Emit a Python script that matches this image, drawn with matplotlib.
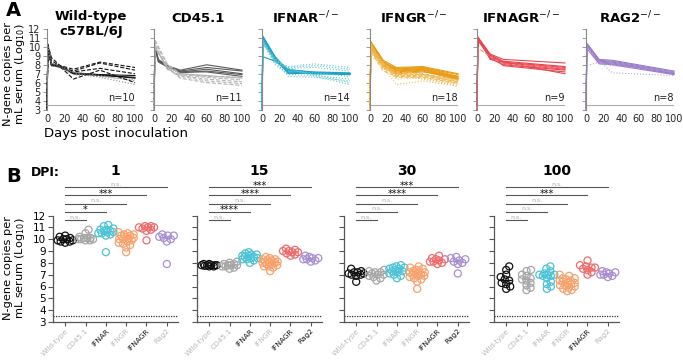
import numpy as np
import matplotlib
matplotlib.use('Agg')
from matplotlib import pyplot as plt

W, H = 683, 361

# ---- panel A: one row per mouse, log10 N-gene copies / mL serum ----
wt_days = [0, 1, 5, 15, 30, 60, 100]
wt_vals = [[3, 10.3, 8.8, 7.9, 7.5, 8.3, 7.7],
           [3, 10.2, 8.5, 7.8, 7.3, 8.2, 7.4],
           [3, 10.0, 8.0, 7.8, 7.2, 7.6, 7.0],
           [3, 9.9, 8.0, 7.7, 7.1, 6.9, 6.8],
           [3, 9.8, 7.9, 7.8, 7.0, 6.8, 6.6],
           [3, 9.8, 8.1, 7.9, 7.0, 6.9, 6.5],
           [3, 9.7, 7.9, 7.7, 6.9, 6.7, 6.3],
           [3, 10.1, 8.2, 7.8, 7.2, 6.8, 6.2],
           [3, 9.9, 8.0, 7.8, 6.4, 7.4, 6.0],
           [3, 10.0, 8.1, 7.75, 7.1, 6.6, 5.8]]
wt_ls = ['--', '--', '--', '-', '-', '-', ':', ':', '--', ':']
wt_shade = [0, 0, 0, 0, 0, 0, 1, 1, 0, 1]

cd_days = [0, 1, 5, 15, 30, 60, 100]
cd_vals = [[3, 10.0, 8.5, 7.9, 7.4, 8.0, 7.4],
           [3, 10.1, 8.4, 7.8, 7.3, 7.7, 7.3],
           [3, 9.9, 8.3, 7.8, 7.2, 7.5, 7.0],
           [3, 10.0, 8.6, 7.9, 7.1, 7.3, 6.9],
           [3, 10.1, 8.5, 7.7, 7.2, 7.2, 6.7],
           [3, 10.8, np.nan, 8.1, 7.0, 6.7, 6.6],
           [3, 10.5, np.nan, 8.0, 6.9, 6.6, 6.3],
           [3, 10.2, np.nan, 7.6, 6.8, 6.4, 6.1],
           [3, 10.1, np.nan, 7.5, 6.7, 6.2, 5.9],
           [3, 10.0, np.nan, 7.7, 6.5, 6.0, 5.7],
           [3, 9.9, np.nan, 7.8, 7.0, 6.8, 6.5]]
cd_ls = ['-', '-', '-', '-', '-', '--', '--', '--', '--', '--', '-']
cd_shade = [0, 0, 0, 0, 0, 1, 1, 1, 1, 1, 1]

ar_days = [0, 1, 15, 30, 60, 100]
ar_vals = [[3, 11.2, 8.9, 7.3, 7.1, 7.0],
           [3, 11.1, 8.8, 7.2, 7.0, 7.0],
           [3, 10.9, 8.7, 7.1, 7.0, 6.9],
           [3, 10.7, 8.6, 7.0, 7.1, 7.0],
           [3, 10.8, 8.5, 7.4, 7.2, 7.1],
           [3, 8.9, 8.4, 7.5, 7.1, 6.9],
           [3, 10.6, 8.3, 7.8, 8.1, 7.7],
           [3, 10.5, 8.6, 7.7, 7.9, 7.5],
           [3, 10.4, 8.5, 7.6, 7.7, 7.3],
           [3, 10.3, 8.2, 7.3, 7.1, 6.7],
           [3, 10.8, 8.0, 6.9, 6.8, 6.4],
           [3, 10.5, 8.4, 6.7, 6.6, 6.2],
           [3, 10.7, 8.7, 7.5, 6.9, 6.0],
           [3, 10.6, 8.3, 7.6, 6.7, 5.8]]
ar_ls = ['-'] * 6 + [':'] * 8
ar_shade = [0] * 6 + [1] * 8

gr_days = [0, 1, 15, 30, 60, 100]
gr_vals = [[3, 10.6, 8.5, 7.7, 7.8, 7.0],
           [3, 10.5, 8.3, 7.6, 7.7, 6.9],
           [3, 10.4, 8.2, 7.5, 7.7, 6.7],
           [3, 10.3, 8.1, 7.4, 7.6, 6.6],
           [3, 10.2, 8.0, 7.3, 7.5, 6.5],
           [3, 10.0, 8.0, 7.2, 7.4, 6.4],
           [3, 10.0, 7.9, 7.1, 7.3, 6.3],
           [3, 9.9, 7.8, 7.0, 7.2, 6.7],
           [3, 10.4, 8.4, 7.3, 7.5, 6.5],
           [3, 9.8, 7.7, 6.9, 6.9, 6.2],
           [3, 9.6, 7.6, 6.8, 6.8, 6.1],
           [3, 9.5, 7.3, 6.7, 6.7, 6.0],
           [3, 9.3, 8.2, 6.6, 6.6, 5.9],
           [3, 10.1, 8.1, 7.2, 7.0, 6.3],
           [3, 10.3, 7.9, 7.0, 6.9, 6.1],
           [3, 8.9, 8.0, 6.4, 6.5, 5.8],
           [3, 9.7, 8.3, 6.9, 6.4, 5.7],
           [3, 10.0, 7.7, 5.8, 6.2, 5.6]]
gr_ls = ['-'] * 9 + ['--'] * 6 + [':'] * 3
gr_shade = [0] * 9 + [1] * 9

agr_days = [0, 1, 15, 30, 100]
agr_vals = [[3, 11.1, 9.2, 8.6, 8.2],
            [3, 11.0, 9.1, 8.4, 7.8],
            [3, 11.0, 9.0, 8.3, 7.7],
            [3, 10.9, 8.9, 8.2, 7.6],
            [3, 11.0, 8.8, 8.1, 7.5],
            [3, 10.8, 8.7, 8.0, 7.4],
            [3, 10.7, 9.0, 7.9, 7.2],
            [3, 11.1, 8.6, 8.3, 7.0],
            [3, 9.9, 8.9, 8.1, 7.6]]
agr_ls = ['-'] * 8 + ['--']
agr_shade = [0] * 8 + [1]

rag_days = [0, 1, 15, 30, 100]
rag_vals = [[3, 10.4, 8.6, 8.5, 7.3],
            [3, 10.3, 8.5, 8.4, 7.2],
            [3, 10.3, 8.4, 8.3, 7.1],
            [3, 10.2, 8.3, 8.2, 7.0],
            [3, 10.1, 8.2, 8.1, 7.0],
            [3, 9.8, 8.1, 8.0, 6.9],
            [3, 10.0, 8.4, 7.1, 6.8],
            [3, 7.9, 8.3, 7.9, 7.2]]
rag_ls = ['-'] * 6 + [':'] * 2
rag_shade = [0] * 6 + [1] * 2

a_titles = ['Wild-type\nc57BL/6J', 'CD45.1', r'IFNAR$^{-/-}$', r'IFNGR$^{-/-}$',
            r'IFNAGR$^{-/-}$', r'RAG2$^{-/-}$']
a_main = ['#111111', '#5a5a5a', '#1aa3c4', '#e89c14', '#e8474f', '#9b7cc6']
a_light = ['#8c8c8c', '#b4b4b4', '#62c3d6', '#f0bb5a', '#f08a8a', '#b8a0da']

all_days = [wt_days, cd_days, ar_days, gr_days, agr_days, rag_days]
all_vals = [wt_vals, cd_vals, ar_vals, gr_vals, agr_vals, rag_vals]
all_ls = [wt_ls, cd_ls, ar_ls, gr_ls, agr_ls, rag_ls]
all_shade = [wt_shade, cd_shade, ar_shade, gr_shade, agr_shade, rag_shade]

# ---- panel B ----
b_names = ['Wild-type', 'CD45.1', 'IFNAR', 'IFNGR', 'IFNAGR', 'Rag2']
b_colors = ['#111111', '#a6a6a6', '#4cc3d6', '#f7a16c', '#f06b6b', '#a98fd2']
dpis = [1, 15, 30, 100]
sig_d1 = ['n.s.', '*', 'n.s.', '***', 'n.s.']
sig_d15 = ['n.s.', '****', 'n.s.', '****', '***']
sig_d30 = ['n.s.', 'n.s.', 'n.s.', '****', '***']
sig_d100 = ['n.s.', 'n.s.', 'n.s.', '***', 'n.s.']
all_sig = [sig_d1, sig_d15, sig_d30, sig_d100]


def fx(x):
    return x / W


def fy(y):
    return 1 - y / H


def swarm(vals, xpx=20.3, ypx=12.0, diam=4.5, cap=7.5):
    # compact beeswarm offsets (x data units), points may overlap near the cap
    order = np.argsort(vals)
    placed = []
    offs = np.zeros(len(vals))
    cands = [0.0]
    k = 1
    while k * 0.5 <= cap:
        cands += [k * 0.5, -k * 0.5]
        k += 1
    for i in order:
        y = vals[i] * ypx
        best, best_d = 0.0, -1
        for x in cands:
            d = min([np.hypot(x - px, y - py) for px, py in placed] + [99])
            if d >= diam:
                best = x
                break
            if d > best_d:
                best, best_d = x, d
        placed.append((best, y))
        offs[i] = best / xpx
    return offs


fig = plt.figure(figsize=(W / 100, H / 100), dpi=100)

# ================= A =================
a_left = [47, 154, 262, 370, 477, 586]
for k in range(6):
    ax = fig.add_axes([fx(a_left[k]), fy(109.5), 88 / W, 80.5 / H])
    days = np.array(all_days[k])
    for row, ls, sh in zip(all_vals[k], all_ls[k], all_shade[k]):
        row = np.array(row, dtype=float)
        m = ~np.isnan(row)
        col = a_main[k] if sh == 0 else a_light[k]
        ax.plot(days[m], row[m], ls=ls, color=col, lw=0.8, clip_on=False)
    ax.axhline(3.55, color='#aaaaaa', lw=0.8)
    ax.set_xlim(0, 100)
    ax.set_ylim(3, 12)
    ax.set_yticks(range(3, 13))
    ax.set_xticks([0, 20, 40, 60, 80, 100])
    for s in ['top', 'right', 'bottom']:
        ax.spines[s].set_visible(False)
    ax.spines['left'].set_color('#888888')
    ax.spines['left'].set_linewidth(0.8)
    ax.tick_params(axis='y', length=3, width=0.6, color='#888888', labelsize=7,
                   pad=1.5, labelleft=(k == 0), labelcolor='#222222')
    ax.tick_params(axis='x', length=0, labelsize=7, pad=3, labelcolor='#222222')
    ax.text(100, 4.3, 'n=%d' % len(all_vals[k]), ha='right', va='center',
            fontsize=7, color='#222222')
    cx = a_left[k] + 44
    if k == 0:
        fig.text(fx(cx), fy(10), a_titles[k], ha='center', va='top',
                 fontsize=9.5, fontweight='bold', linespacing=1.15)
    else:
        fig.text(fx(cx), fy(18), a_titles[k], ha='center', va='center',
                 fontsize=9.5, fontweight='bold')

fig.text(fx(6), fy(11), 'A', fontsize=14, fontweight='bold', va='center')
fig.text(fx(15), fy(74), 'N-gene copies per\nmL serum (Log$_{10}$)', rotation=90,
         ha='center', va='center', fontsize=8.2, linespacing=1.05)
fig.text(fx(44), fy(133), 'Days post inoculation', fontsize=9.5, va='center')

# ================= B =================
b_left = [53, 197, 344, 494]
for j, dpi in enumerate(dpis):
    ax = fig.add_axes([fx(b_left[j]), fy(322), 125 / W, 106.5 / H])
    sig = all_sig[j]
    for g in range(6):
        col_i = all_days[g].index(dpi)
        vals = np.array([r[col_i] for r in all_vals[g]], dtype=float)
        offs = swarm(vals)
        ax.scatter(g + offs, vals, s=26, facecolors='none', edgecolors=b_colors[g],
                   linewidths=0.9, zorder=3, clip_on=False)
        med = np.median(vals)
        ax.plot([g - 0.22, g + 0.22], [med, med], color=b_colors[g], lw=1.0, zorder=2)
    ax.axhline(3.5, color='#333333', lw=0.9, ls=(0, (1, 1)))
    ax.set_xlim(-0.6, 5.55)
    ax.set_ylim(3, 12)
    ax.set_yticks(range(3, 13))
    ax.set_xticks(range(6))
    ax.set_xticklabels(b_names, rotation=45, ha='right', rotation_mode='anchor')
    for t, g in zip(ax.get_xticklabels(), range(6)):
        black = g > 0 and sig[g - 1] != 'n.s.'
        t.set_color('#111111' if black else '#b8b8b8')
    for s in ['top', 'right']:
        ax.spines[s].set_visible(False)
    for s in ['left', 'bottom']:
        ax.spines[s].set_color('#555555')
        ax.spines[s].set_linewidth(0.9)
    ax.tick_params(axis='both', length=3.5, width=0.8, color='#555555')
    ax.tick_params(axis='x', length=3)
    ax.tick_params(axis='y', labelsize=7.5, pad=1.5, labelleft=(j == 0))
    ax.tick_params(axis='x', labelsize=5.3, pad=1)
    # brackets vs wild-type
    for c in range(5):
        yb = 11.6 + 0.7 * c
        ax.plot([0, c + 1], [yb, yb], color='#555555', lw=0.8, clip_on=False)
        if sig[c] == 'n.s.':
            ax.text((c + 1) / 2, yb + 0.04, 'n.s.', ha='center', va='bottom',
                    fontsize=4.5, color='#aaaaaa')
        else:
            ax.text((c + 1) / 2, yb - 0.3, sig[c], ha='center', va='bottom',
                    fontsize=7, color='#111111')
    fig.text(fx(b_left[j] + 62.5), fy(171), str(dpi), ha='center', va='center',
             fontsize=10, fontweight='bold')

fig.text(fx(6), fy(177), 'B', fontsize=14, fontweight='bold', va='center')
fig.text(fx(31), fy(173), 'DPI:', fontsize=9, fontweight='bold', va='center')
fig.text(fx(15), fy(268), 'N-gene copies per\nmL serum (Log$_{10}$)', rotation=90,
         ha='center', va='center', fontsize=8.2, linespacing=1.05)

fig.savefig('out.png', dpi=100)
